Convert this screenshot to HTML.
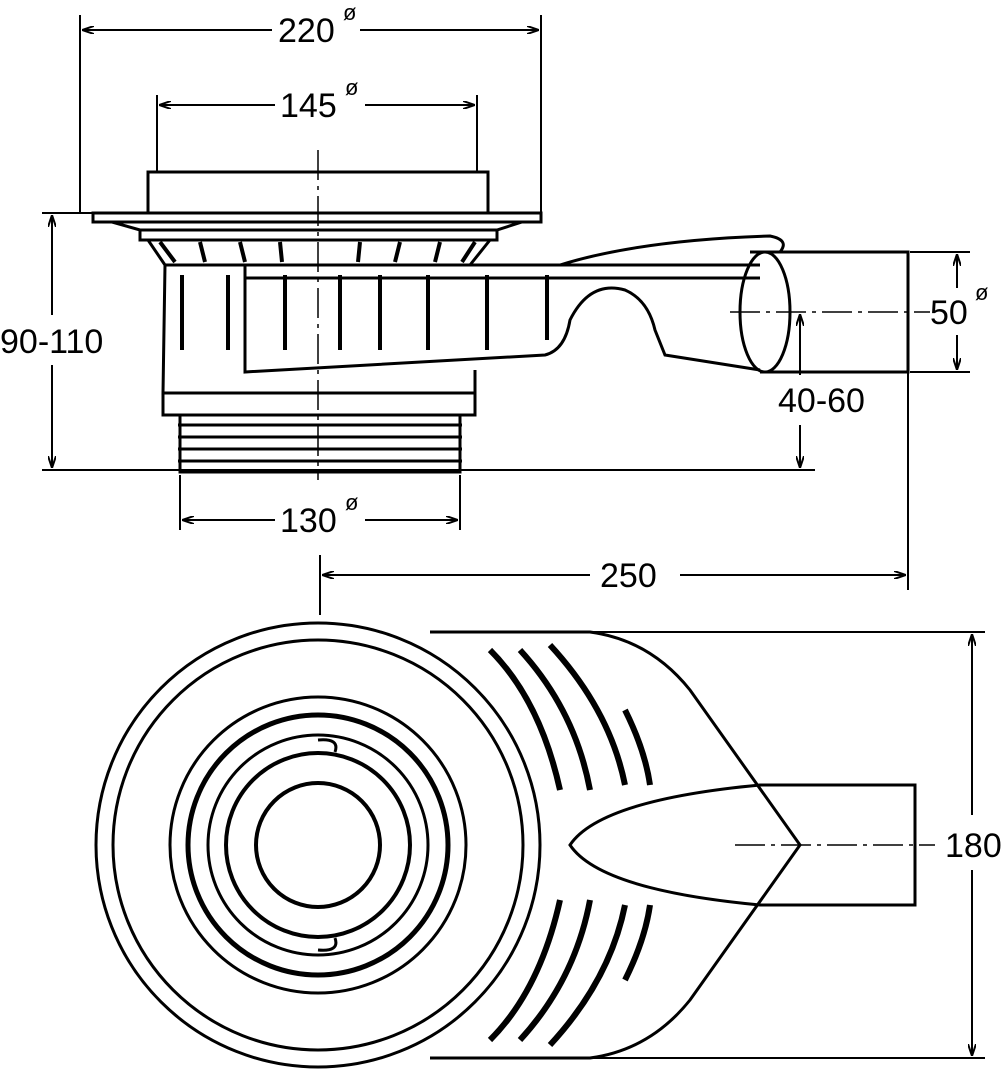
<!DOCTYPE html>
<html><head><style>body{margin:0;background:#fff}svg{display:block}text{font-family:"Liberation Sans",sans-serif;font-size:34px;fill:#000}</style></head><body>
<svg width="1001" height="1080" viewBox="0 0 1001 1080" xmlns="http://www.w3.org/2000/svg">
<defs><marker id="a" viewBox="0 0 12 8" refX="12" refY="4" markerWidth="12" markerHeight="8" orient="auto-start-reverse" markerUnits="userSpaceOnUse"><path d="M0,0 L12,4 L0,8" fill="none" stroke="#000" stroke-width="2"/></marker></defs>
<g stroke="#000" stroke-width="2" fill="none">
<line x1="80" y1="15" x2="80" y2="213"/><line x1="541" y1="15" x2="541" y2="213"/>
<line x1="82" y1="30" x2="272" y2="30" marker-start="url(#a)"/><line x1="360" y1="30" x2="539" y2="30" marker-end="url(#a)"/>
<line x1="157" y1="95" x2="157" y2="172"/><line x1="477" y1="95" x2="477" y2="172"/>
<line x1="159" y1="105" x2="275" y2="105" marker-start="url(#a)"/><line x1="365" y1="105" x2="475" y2="105" marker-end="url(#a)"/>
<line x1="42" y1="213" x2="93" y2="213"/><line x1="42" y1="470" x2="815" y2="470"/>
<line x1="52" y1="215" x2="52" y2="315" marker-start="url(#a)"/><line x1="52" y1="365" x2="52" y2="468" marker-end="url(#a)"/>
<line x1="910" y1="252" x2="970" y2="252"/><line x1="910" y1="372" x2="970" y2="372"/>
<line x1="957" y1="254" x2="957" y2="288" marker-start="url(#a)"/><line x1="957" y1="335" x2="957" y2="370" marker-end="url(#a)"/>
<line x1="800" y1="314" x2="800" y2="375" marker-start="url(#a)"/><line x1="800" y1="425" x2="800" y2="468" marker-end="url(#a)"/>
<line x1="180" y1="475" x2="180" y2="530"/><line x1="460" y1="475" x2="460" y2="530"/>
<line x1="182" y1="520" x2="275" y2="520" marker-start="url(#a)"/><line x1="365" y1="520" x2="458" y2="520" marker-end="url(#a)"/>
<line x1="320" y1="555" x2="320" y2="615"/><line x1="908" y1="372" x2="908" y2="590"/>
<line x1="322" y1="575" x2="590" y2="575" marker-start="url(#a)"/><line x1="680" y1="575" x2="906" y2="575" marker-end="url(#a)"/>
<line x1="440" y1="632" x2="985" y2="632"/><line x1="440" y1="1058" x2="985" y2="1058"/>
<line x1="972" y1="634" x2="972" y2="815" marker-start="url(#a)"/><line x1="972" y1="870" x2="972" y2="1056" marker-end="url(#a)"/>
<line x1="318" y1="150" x2="318" y2="480" stroke-dasharray="30,6,4,6" stroke-width="1.5"/>
<line x1="730" y1="312" x2="930" y2="312" stroke-dasharray="30,6,4,6" stroke-width="1.5"/>
<line x1="735" y1="845" x2="935" y2="845" stroke-dasharray="30,6,4,6" stroke-width="1.5"/>
<g stroke-width="3">
<rect x="148" y="172" width="340" height="41"/>
<rect x="93" y="213" width="448" height="9"/>
<path d="M112 222 L140 230 L497 230 L522 222"/>
<rect x="140" y="230" width="357" height="10"/>
<path d="M148 240 L165 265 M490 240 L470 265"/>
<path d="M165 265 L163 393 L475 393 L475 370"/>
<rect x="163" y="393" width="312" height="22"/>
<path d="M180 415 L180 472 L460 472 L460 415"/>
<path d="M178 425 H462 M178 437 H462 M178 449 H462 M178 461 H462"/>
<path d="M165 265 H760 M245 278 H760"/>
<path d="M245 265 L245 372 L545 355 Q565 350 570 320 Q590 280 625 290 Q648 300 655 330 L665 355 L760 370"/>
<path d="M560 265 Q640 240 770 236 Q790 240 780 252"/>
<path d="M750 252 L908 252 L908 372 L760 372"/>
<ellipse cx="765" cy="312" rx="25" ry="60"/>
</g>
<g stroke-width="4">
<path d="M182 275 V350 M228 275 V350 M285 275 V350 M340 275 V350 M380 275 V350 M428 275 V350 M487 275 V350 M547 275 V340"/>
<path d="M160 242 L175 262 M200 242 L205 262 M240 242 L245 262 M280 242 L282 262 M360 242 L358 262 M400 242 L395 262 M440 242 L435 262 M475 242 L462 262"/>
</g>
<g stroke-width="3">
<circle cx="318" cy="845" r="222"/>
<circle cx="318" cy="845" r="205"/>
<circle cx="318" cy="845" r="148"/>
<circle cx="318" cy="845" r="130" stroke-width="5"/>
<circle cx="318" cy="845" r="110"/>
<circle cx="318" cy="845" r="92" stroke-width="4"/>
<circle cx="318" cy="845" r="62" stroke-width="4"/>
<path d="M430 632 L590 632 Q650 640 690 690 L800 845 L690 1000 Q650 1050 590 1058 L430 1058"/>
<path d="M570 845 Q600 800 760 785 L915 785 L915 905 L760 905 Q600 890 570 845 Z"/>
<path d="M318 740 Q340 738 335 752 M318 950 Q340 952 335 938"/>
</g>
<g stroke-width="6">
<path d="M490 650 Q540 700 560 790 M520 650 Q575 710 590 790 M550 645 Q610 710 625 785 M625 710 Q645 750 650 785"/>
<path d="M490 1040 Q540 990 560 900 M520 1040 Q575 980 590 900 M550 1045 Q610 980 625 905 M625 980 Q645 940 650 905"/>
</g>
</g>
<text x="278" y="42">220</text><text x="343" y="20" style="font-size:22px">ø</text>
<text x="280" y="117">145</text><text x="345" y="95" style="font-size:22px">ø</text>
<text x="0" y="353">90-110</text>
<text x="930" y="324">50</text><text x="975" y="300" style="font-size:22px">ø</text>
<text x="778" y="412">40-60</text>
<text x="280" y="532">130</text><text x="345" y="510" style="font-size:22px">ø</text>
<text x="600" y="587">250</text>
<text x="945" y="857">180</text>
</svg>
</body></html>
